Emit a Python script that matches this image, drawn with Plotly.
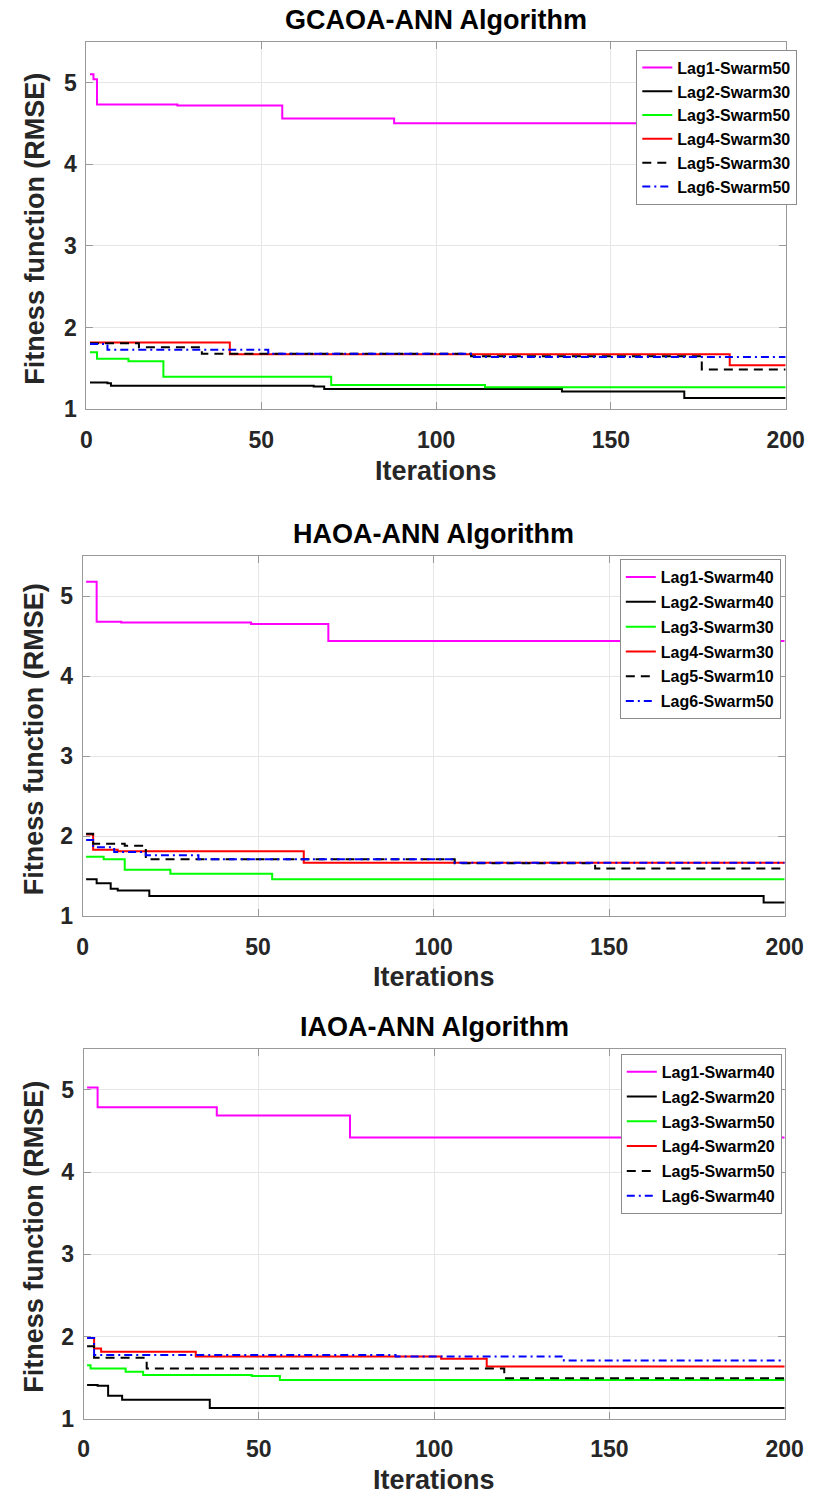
import plotly.graph_objects as go

# Convergence curves (best RMSE per iteration), stored as change points.
# Each curve holds its value from one listed iteration until the next one.
series_names_gcaoa = ["Lag1-Swarm50", "Lag2-Swarm30", "Lag3-Swarm50",
                      "Lag4-Swarm30", "Lag5-Swarm30", "Lag6-Swarm50"]
gcaoa_iters = [
    [1, 2, 3, 26, 56, 88, 170, 200],
    [1, 6, 7, 65, 68, 136, 171, 200],
    [1, 3, 12, 22, 70, 114, 200],
    [1, 41, 184, 200],
    [1, 15, 33, 110, 176, 200],
    [1, 6, 52, 110, 200],
]
gcaoa_rmse = [
    [5.10, 5.04, 4.73, 4.72, 4.56, 4.50, 4.44, 4.44],
    [1.33, 1.32, 1.29, 1.28, 1.25, 1.22, 1.14, 1.14],
    [1.70, 1.62, 1.59, 1.40, 1.30, 1.27, 1.27],
    [1.82, 1.675, 1.54, 1.54],
    [1.81, 1.76, 1.68, 1.65, 1.49, 1.49],
    [1.80, 1.73, 1.68, 1.64, 1.64],
]

series_names_haoa = ["Lag1-Swarm40", "Lag2-Swarm40", "Lag3-Swarm30",
                     "Lag4-Swarm30", "Lag5-Swarm10", "Lag6-Swarm50"]
haoa_iters = [
    [1, 4, 11, 48, 70, 200],
    [1, 4, 8, 10, 19, 194, 200],
    [1, 6, 12, 25, 54, 200],
    [1, 3, 10, 63, 200],
    [1, 3, 12, 18, 106, 146, 200],
    [1, 3, 9, 18, 33, 106, 200],
]
haoa_rmse = [
    [5.18, 4.68, 4.67, 4.65, 4.44, 4.44],
    [1.46, 1.41, 1.34, 1.32, 1.25, 1.17, 1.17],
    [1.74, 1.71, 1.58, 1.53, 1.46, 1.46],
    [2.02, 1.83, 1.81, 1.665, 1.665],
    [2.03, 1.905, 1.88, 1.71, 1.66, 1.595, 1.595],
    [1.95, 1.86, 1.80, 1.76, 1.71, 1.665, 1.665],
]

series_names_iaoa = ["Lag1-Swarm40", "Lag2-Swarm20", "Lag3-Swarm50",
                     "Lag4-Swarm20", "Lag5-Swarm50", "Lag6-Swarm40"]
iaoa_iters = [
    [1, 4, 38, 76, 200],
    [1, 4, 7, 11, 36, 200],
    [1, 2, 12, 17, 48, 56, 200],
    [1, 3, 5, 32, 102, 115, 200],
    [1, 3, 18, 120, 200],
    [1, 3, 89, 137, 200],
]
iaoa_rmse = [
    [5.03, 4.79, 4.69, 4.42, 4.42],
    [1.41, 1.40, 1.28, 1.23, 1.13, 1.13],
    [1.65, 1.61, 1.57, 1.53, 1.52, 1.47, 1.47],
    [1.98, 1.855, 1.815, 1.755, 1.73, 1.635, 1.635],
    [1.88, 1.74, 1.61, 1.49, 1.49],
    [1.98, 1.775, 1.755, 1.707, 1.707],
]

panel_titles = ["GCAOA-ANN Algorithm", "HAOA-ANN Algorithm", "IAOA-ANN Algorithm"]
x_ticks = [0, 50, 100, 150, 200]
y_ticks = [1, 2, 3, 4, 5]

# Line styles shared by the six lag curves
line_colors = ["#ff00ff", "#000000", "#00ff00", "#ff0000", "#000000", "#0000ff"]
line_dashes = ["solid", "solid", "solid", "solid", "9px,6px", "8px,4px,2px,4px"]

W, H = 826, 1504
FONT = "Liberation Sans, Arial, Helvetica, sans-serif"

# Plot-area boxes in pixels: (left, right, top, bottom)
boxes = [(83, 804, 42, 413), (79, 803, 561, 924), (80, 803, 1058, 1431)]
# Legend anchor (right, top) in pixels, and gap between legend rows
legend_pos = [(816, 50, 0), (799, 564, 1), (800, 1063, 1)]


def px_x(p):
    return p / W


def px_y(p):
    return 1 - p / H


panels = [
    (series_names_gcaoa, gcaoa_iters, gcaoa_rmse),
    (series_names_haoa, haoa_iters, haoa_rmse),
    (series_names_iaoa, iaoa_iters, iaoa_rmse),
]

fig = go.Figure()
annotations = []

for k, (names, iters, rmse) in enumerate(panels):
    sfx = "" if k == 0 else str(k + 1)
    leg = "legend" if k == 0 else f"legend{k + 1}"
    for j, name in enumerate(names):
        fig.add_trace(go.Scatter(
            x=iters[j], y=rmse[j], name=name, mode="lines",
            line=dict(color=line_colors[j], width=2, dash=line_dashes[j], shape="hv"),
            xaxis="x" + sfx, yaxis="y" + sfx, legend=leg,
            legendgroup=f"p{k}g{j}",
        ))

    left, right, top, bottom = boxes[k]
    axis_common = dict(
        showline=True, linecolor="#999999", linewidth=1, mirror="ticks",
        ticks="inside", ticklen=7, tickcolor="#999999", tickwidth=1,
        showgrid=True, gridcolor="#e6e6e6", gridwidth=1, zeroline=False,
        tickfont=dict(family=FONT, size=23, color="#262626", weight="bold"),
    )
    fig.update_layout({
        "xaxis" + sfx: dict(
            domain=[px_x(left), px_x(right)], range=[0, 200],
            tickvals=x_ticks, anchor="y" + sfx, ticklabelstandoff=10, **axis_common),
        "yaxis" + sfx: dict(
            domain=[px_y(bottom), px_y(top)], range=[1, 5.5],
            tickvals=y_ticks, anchor="x" + sfx, ticklabelstandoff=4, **axis_common),
    })

    lr, lt, gap = legend_pos[k]
    fig.update_layout({
        leg: dict(
            x=px_x(lr), y=px_y(lt), xanchor="right", yanchor="top",
            bgcolor="white", bordercolor="#8c8c8c", borderwidth=1,
            font=dict(family=FONT, size=16, color="#000000", weight="bold"),
            traceorder="grouped", tracegroupgap=gap, itemwidth=30,
        )
    })

    cx = (left + right) / 2
    annotations.append(dict(
        text=panel_titles[k], x=px_x(cx), y=px_y(top - 22), xref="paper", yref="paper",
        xanchor="center", yanchor="middle", showarrow=False,
        font=dict(family=FONT, size=27, color="#000000", weight="bold")))
    annotations.append(dict(
        text="Iterations", x=px_x(cx), y=px_y(bottom + 62), xref="paper", yref="paper",
        xanchor="center", yanchor="middle", showarrow=False,
        font=dict(family=FONT, size=27, color="#262626", weight="bold")))
    annotations.append(dict(
        text="Fitness function (RMSE)", x=px_x(29), y=px_y((top + bottom) / 2 + 3),
        xref="paper", yref="paper", xanchor="center", yanchor="middle",
        textangle=-90, showarrow=False,
        font=dict(family=FONT, size=27, color="#262626", weight="bold")))

fig.update_layout(
    width=W, height=H, margin=dict(l=0, r=0, t=0, b=0),
    paper_bgcolor="white", plot_bgcolor="white",
    annotations=annotations, showlegend=True,
)

fig.write_html("out.html")
